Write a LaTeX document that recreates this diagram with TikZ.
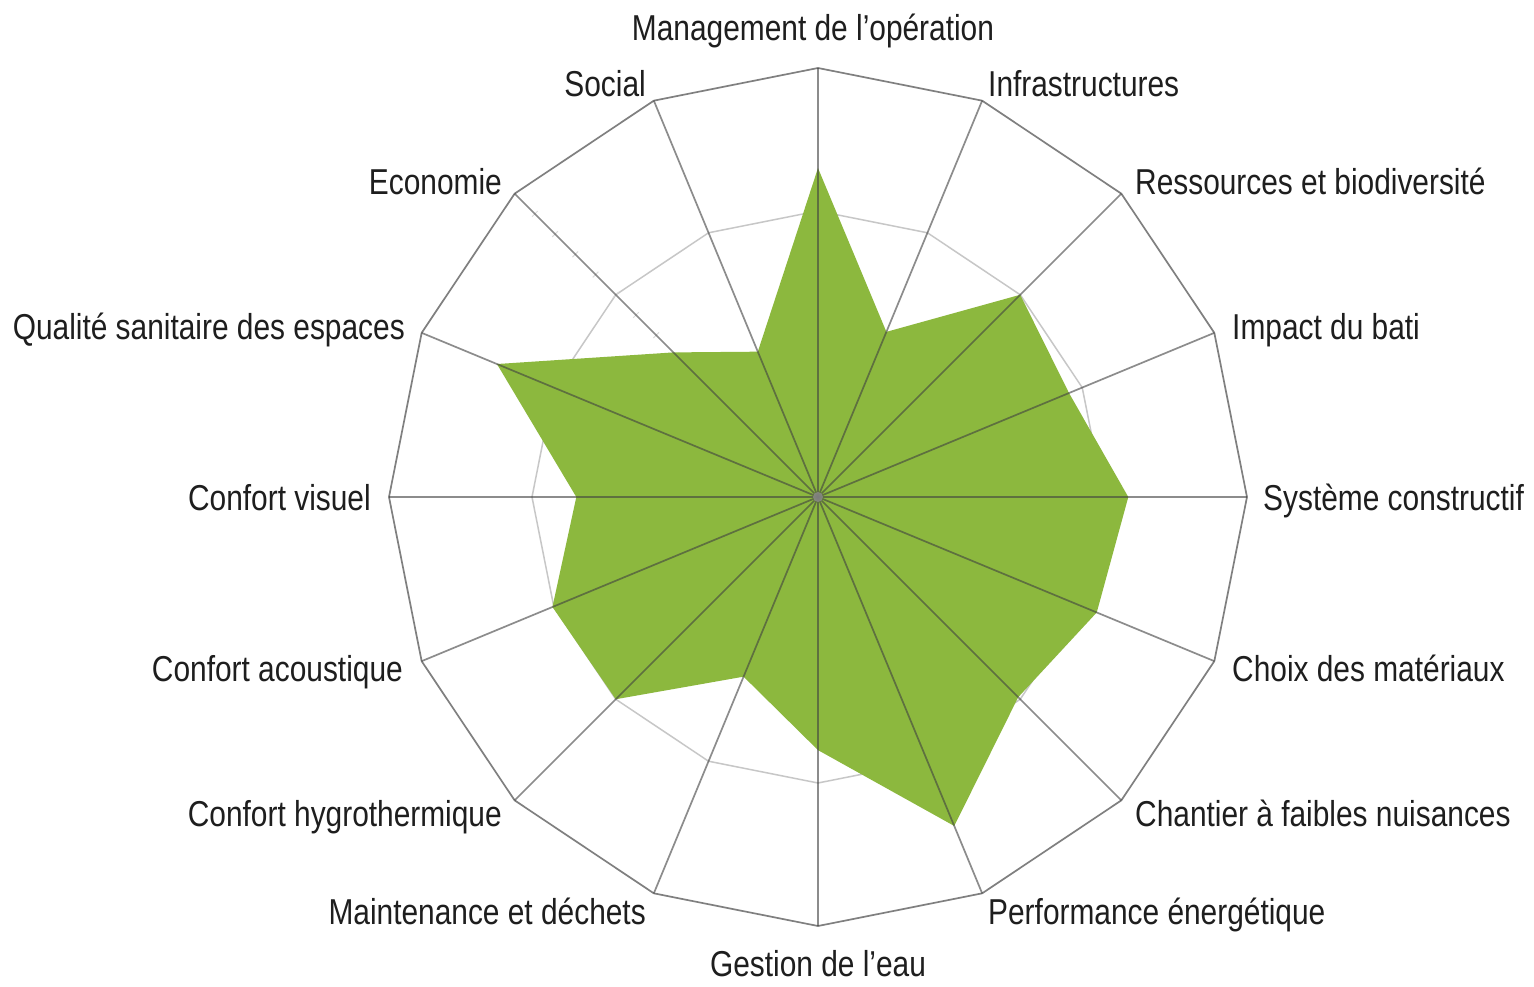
\documentclass[tikz,border=0pt]{standalone}
\usepackage{fontspec}
\setmainfont[FakeStretch=0.83]{Liberation Sans}
\definecolor{radargreen}{RGB}{140,184,62}
\definecolor{labeltext}{RGB}{30,30,30}
\begin{document}
\begin{tikzpicture}[x=1pt,y=1pt,
  lbl/.style={font=\fontsize{36}{40}\selectfont, text=labeltext, inner sep=0pt},
  axisline/.style={draw=black!75, draw opacity=0.6, line width=1.7pt},
  outerring/.style={draw=black!50, line width=1.7pt, line join=miter},
  innerring/.style={draw=black!22, line width=1.5pt},
  tickmark/.style={draw=black!14, line width=1pt},
  datafill/.style={fill=radargreen}
]
\useasboundingbox (-818,-489) rectangle (716,497);
\fill[white] (-818,-489) rectangle (716,497);
\coordinate (c) at (0,0);
% axis end points
\foreach \i in {0,...,15} { \coordinate (o\i) at ({90-22.5*\i}:429); \coordinate (m\i) at ({90-22.5*\i}:286); }
% rings
\draw[innerring] (m0) \foreach \i in {1,...,15} { -- (m\i) } -- cycle;
\draw[outerring] (o0) \foreach \i in {1,...,15} { -- (o\i) } -- cycle;
% faint tick marks on the Economie axis
\foreach \k in {1,...,14} { \draw[tickmark, rotate=135] ({\k*28.6},-4) -- ({\k*28.6},4); }
% data
\foreach \v [count=\i from 0] in {2.3,1.25,2,1.9,2.17,2.11,1.98,2.49,1.77,1.36,2,2.01,1.69,2.43,1.43,1.1}
  { \coordinate (p\i) at ({90-22.5*\i}:{\v*143}); }
\fill[datafill] (p0) \foreach \i in {1,...,15} { -- (p\i) } -- cycle;
% axes
\foreach \i in {0,...,15} { \draw[axisline] (c) -- (o\i); }
\fill[black!45, opacity=0.8] (c) circle (5);
% labels
\node[lbl, anchor=base] (l0) at (-5,456) {Management de l’opération};
\node[lbl, anchor=base west] (l1) at (170,400) {Infrastructures};
\node[lbl, anchor=base west] (l2) at (317,302) {Ressources et biodiversité};
\node[lbl, anchor=base west] (l3) at (414,158) {Impact du bati};
\node[lbl, anchor=base west] (l4) at (445,-13) {Système constructif};
\node[lbl, anchor=base west] (l5) at (414,-184) {Choix des matériaux};
\node[lbl, anchor=base west] (l6) at (317,-329) {Chantier à faibles nuisances};
\node[lbl, anchor=base west] (l7) at (170,-427) {Performance énergétique};
\node[lbl, anchor=base] (l8) at (0,-479) {Gestion de l’eau};
\node[lbl, anchor=base east] (l9) at (-172,-427) {Maintenance et déchets};
\node[lbl, anchor=base east] (l10) at (-316,-329) {Confort hygrothermique};
\node[lbl, anchor=base east] (l11) at (-415,-184) {Confort acoustique};
\node[lbl, anchor=base east] (l12) at (-447,-13) {Confort visuel};
\node[lbl, anchor=base east] (l13) at (-413,158) {Qualité sanitaire des espaces};
\node[lbl, anchor=base east] (l14) at (-316,302) {Economie};
\node[lbl, anchor=base east] (l15) at (-172,400) {Social};
\end{tikzpicture}
\end{document}
